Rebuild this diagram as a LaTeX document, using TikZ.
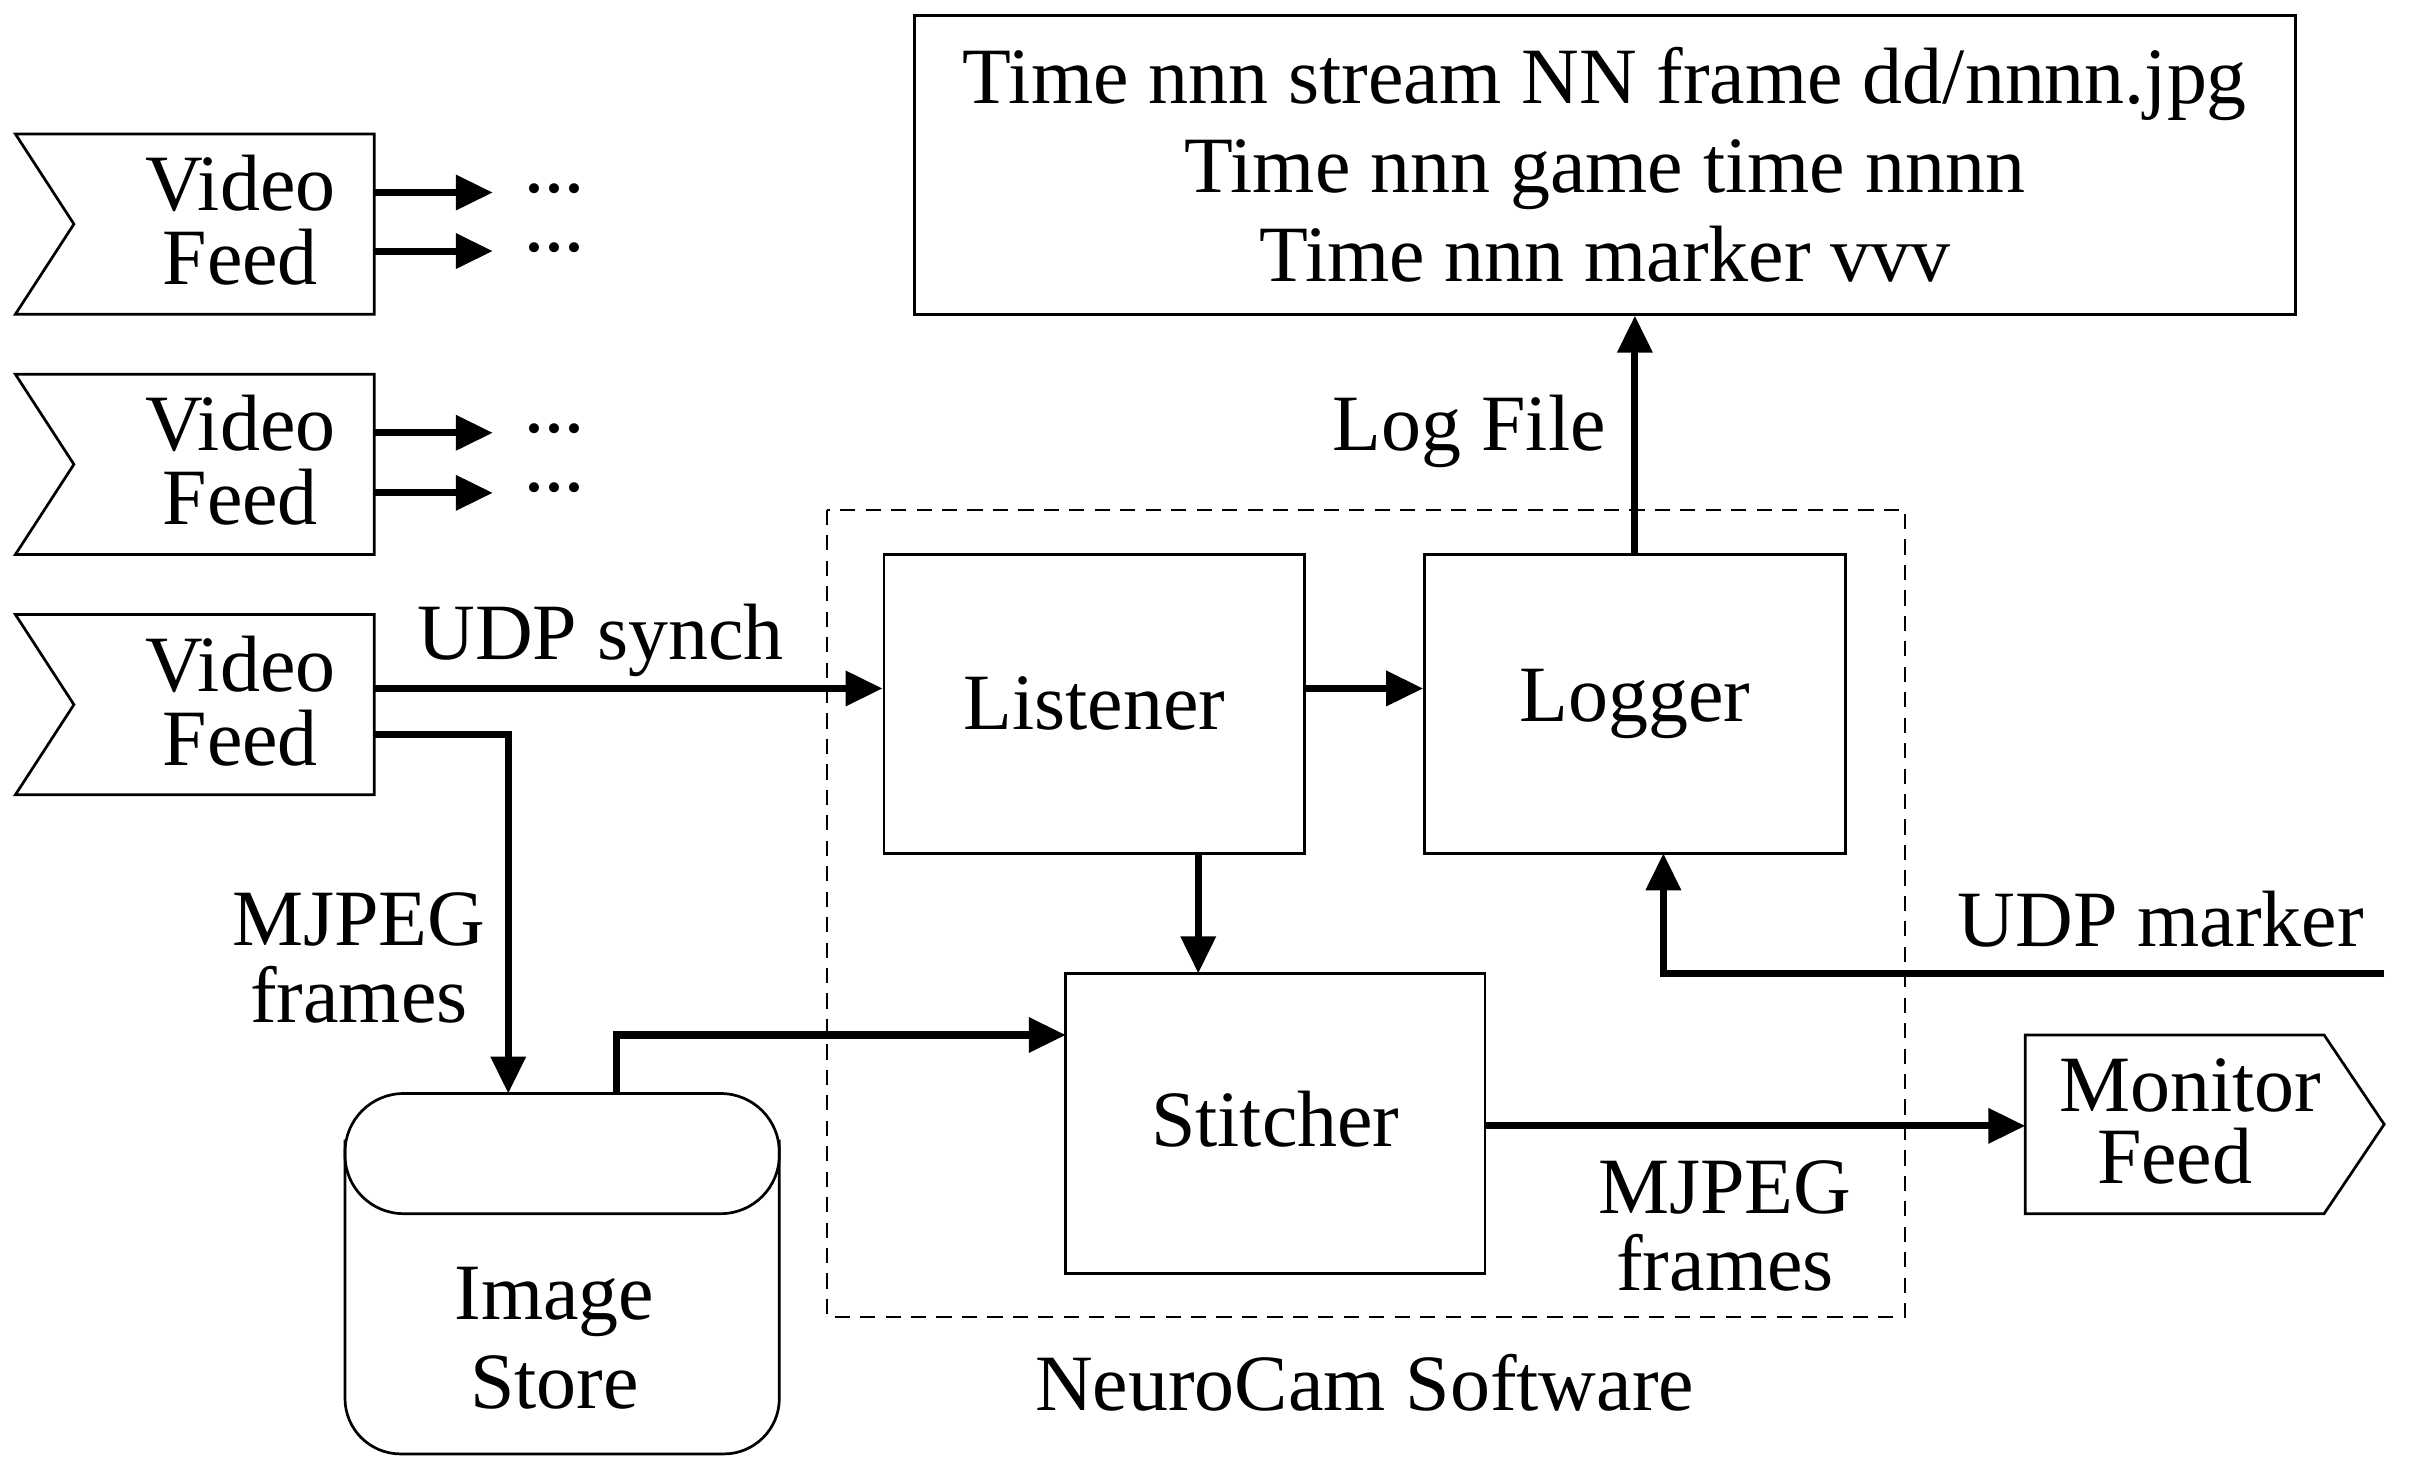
\documentclass[tikz,border=0pt]{standalone}
\usepackage{fontspec}
\setmainfont{Liberation Serif}
\usetikzlibrary{arrows.meta,calc}
\newcommand{\mydots}{\char"00B7\kern-1.4pt\char"00B7\kern-1.4pt\char"00B7}
\begin{document}
\begin{tikzpicture}[x=0.01cm,y=-0.01cm,
  lbl/.style={inner sep=0pt,align=center,font=\fontsize{14.75}{14.2}\selectfont},
  feedlbl/.style={lbl,font=\fontsize{14.75}{13.66}\selectfont},
  wide/.style={lbl,font=\fontsize{14.75}{16.5}\selectfont},
  shapeline/.style={draw,line width=0.5pt},
  procbox/.style={shapeline,rectangle,minimum width=2.73cm,minimum height=1.94cm,inner sep=0pt,font=\fontsize{14.75}{16}\selectfont},
  conn/.style={line width=1.3pt,-{Triangle[length=0.24cm,width=0.22cm]}},
  dots/.style={inner sep=0pt,align=center,font=\fontsize{15.5}{10.8}\selectfont}
]
\path[use as bounding box,fill=white] (0,0) rectangle (1568,954);

% ---- Video feeds (notched shapes) ----
\foreach \t in {87,243,399}{
  \draw[line width=0.5pt,line join=miter] (10,\t) -- (243,\t) -- (243,\t+117) -- (10,\t+117) -- (48,\t+58.5) -- cycle;
}
\node[feedlbl] (vf1) at (156,143) {Video\\Feed};
\node[feedlbl] (vf2) at (156,299) {Video\\Feed};
\node[feedlbl] (vf3) at (156,455) {Video\\Feed};

% outputs of first two feeds
\coordinate (vf1a) at (243,125);
\coordinate (vf1b) at (243,163);
\coordinate (vf2a) at (243,281);
\coordinate (vf2b) at (243,320);
\coordinate (t1a) at (320,125);
\coordinate (t1b) at (320,163);
\coordinate (t2a) at (320,281);
\coordinate (t2b) at (320,320);
\node[dots] (d1) at (360,149) {\mydots\\\mydots};
\node[dots] (d2) at (360,305) {\mydots\\\mydots};
\draw[conn] (vf1a) -- (t1a);
\draw[conn] (vf1b) -- (t1b);
\draw[conn] (vf2a) -- (t2a);
\draw[conn] (vf2b) -- (t2b);

% ---- Log file box ----
\node[shapeline,rectangle,minimum width=8.96cm,minimum height=1.94cm,inner sep=0pt,align=center,
      font=\fontsize{14.75}{16.5}\selectfont] (logbox) at (1042,107)
  {Time nnn stream NN frame dd/nnnn.jpg\\Time nnn game time nnnn\\Time nnn marker vvv};

% ---- NeuroCam software ----
\draw[line width=0.45pt,dash pattern=on 2.8pt off 1.9pt] (537,331) rectangle (1237,855);
\node[lbl] (ncs) at (886,898) {NeuroCam Software};

\node[procbox] (lis) at (710.5,457) {Listener};
\node[procbox] (lgr) at (1061.5,457) {Logger};
\node[procbox,minimum width=2.72cm,minimum height=1.95cm] (sti) at (828,729.5) {\raisebox{0.06cm}{Stitcher}};

% ---- Image store ----
\draw[line width=0.5pt,rounded corners=0.38cm] (224,749) -- (224,710) -- (506,710) -- (506,749);
\draw[line width=0.5pt,rounded corners=0.36cm] (224,740) -- (224,944) -- (506,944) -- (506,740);
\draw[line width=0.5pt,rounded corners=0.38cm] (224,749) -- (224,788) -- (506,788) -- (506,749);
\node[wide] (ist) at (360,869) {Image\\Store};
\coordinate (istin) at (330,710);
\coordinate (istout) at (400,710);

% ---- Monitor feed ----
\draw[line width=0.5pt,line join=miter] (1315,672) -- (1509,672) -- (1548,730) -- (1509,788) -- (1315,788) -- cycle;
\node[lbl,font=\fontsize{14.75}{13.4}\selectfont] (mon) at (1422,728) {Monitor\\Feed\hspace*{0.2cm}};
\coordinate (monin) at (1315,731);

% ---- connectors ----
\coordinate (vf3a) at (243,447);
\coordinate (vf3b) at (243,477);
\draw[conn] (vf3a) -- (lis.west |- vf3a);
\node[lbl] (udps) at (390,416) {UDP synch};
\draw[conn] (lis.east |- vf3a) -- (lgr.west |- vf3a);
\draw[conn] (vf3b) -| (istin);
\node[lbl] (mj1) at (233,622) {MJPEG\\frames};
\coordinate (stin) at (692,672);
\draw[conn] (istout) |- (stin);
\coordinate (lisout) at (778,554);
\coordinate (stitop) at (778,632);
\draw[conn] (lisout) -- (stitop);
\draw[conn] (lgr.north) -- (lgr.north |- logbox.south);
\node[lbl] (logf) at (954,280) {Log File};
\coordinate (umk) at (1548,632);
\coordinate (lgrin) at (1080,554);
\draw[conn] (umk) -| (lgrin);
\node[lbl] (udpm) at (1403,597) {UDP marker};
\draw[conn] (sti.east |- monin) -- (monin);
\node[lbl] (mj2) at (1120,796) {MJPEG\\frames};
\end{tikzpicture}
\end{document}
